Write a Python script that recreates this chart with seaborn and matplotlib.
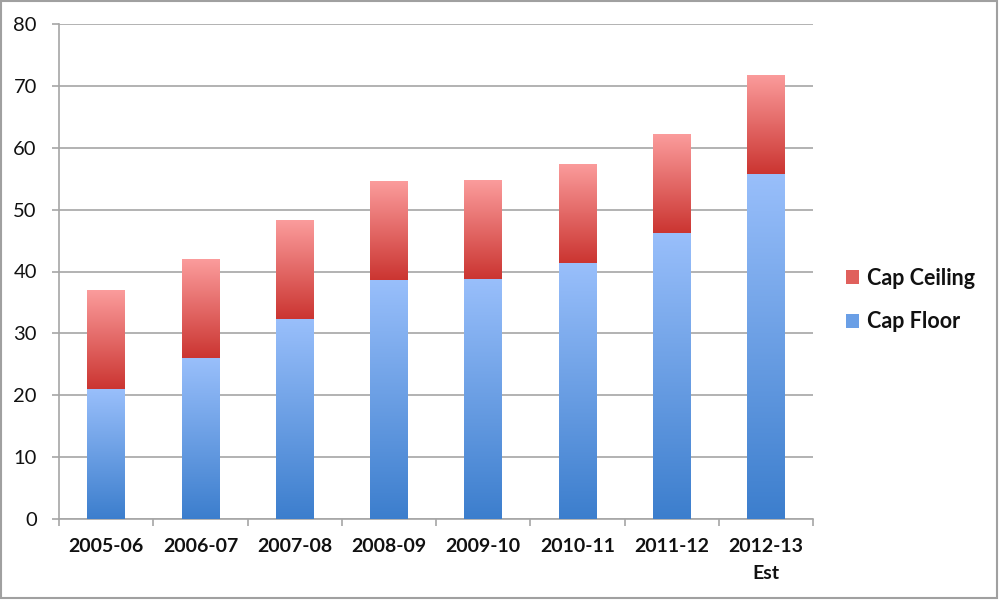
import numpy as np
import pandas as pd
import matplotlib
matplotlib.use("Agg")
import matplotlib.pyplot as plt
import seaborn as sns
from matplotlib.colors import LinearSegmentedColormap
from matplotlib.patches import Patch, Rectangle

# ---- data ----
seasons = ["2005-06", "2006-07", "2007-08", "2008-09", "2009-10",
           "2010-11", "2011-12", "2012-13\nEst"]
cap_floor = [21.0, 26.0, 32.3, 38.7, 38.8, 41.3, 46.3, 55.8]
cap_ceiling_extra = [16.0, 16.0, 16.0, 16.0, 16.0, 16.05, 16.0, 16.0]
y_ticks = [0, 10, 20, 30, 40, 50, 60, 70, 80]

sns.set_style("white")
plt.rcParams["font.family"] = ["Lato", "DejaVu Sans"]

totals = [f + c for f, c in zip(cap_floor, cap_ceiling_extra)]
df = pd.DataFrame({"season": seasons, "floor": cap_floor, "total": totals})

fig = plt.figure(figsize=(10, 6), dpi=100)
ax = fig.add_axes([0.059, 0.135, 0.754, 0.825])

grid_col = "#A6A6A6"
blue_cmap = LinearSegmentedColormap.from_list("blue", ["#3C7ECD", "#99BFFB"])
red_cmap = LinearSegmentedColormap.from_list("red", ["#CB3531", "#FB9C9C"])

sns.barplot(data=df, x="season", y="total", color="#E05A57", width=0.4,
            ax=ax, saturation=1, zorder=2)
sns.barplot(data=df, x="season", y="floor", color="#6A9FE6", width=0.4,
            ax=ax, saturation=1, zorder=3)

grad = np.linspace(0, 1, 256).reshape(-1, 1)
n = len(seasons)
patches = list(ax.patches)
red_patches = patches[:n]
blue_patches = patches[n:2 * n]
for i in range(n):
    rp = red_patches[i]
    x0, w = rp.get_x(), rp.get_width()
    im = ax.imshow(grad, extent=[x0, x0 + w, cap_floor[i], totals[i]],
                   origin="lower", cmap=red_cmap, aspect="auto", zorder=2,
                   interpolation="bilinear")
    im.set_clip_path(rp)
    rp.set_facecolor("none")
    rp.set_edgecolor("none")
    bp = blue_patches[i]
    x0, w = bp.get_x(), bp.get_width()
    im = ax.imshow(grad, extent=[x0, x0 + w, 0, cap_floor[i]],
                   origin="lower", cmap=blue_cmap, aspect="auto", zorder=3,
                   interpolation="bilinear")
    im.set_clip_path(bp)
    bp.set_facecolor("none")
    bp.set_edgecolor("none")

ax.set_xlim(-0.5, n - 0.5)
ax.set_ylim(0, 80)
ax.set_yticks(y_ticks)
ax.set_xlabel("")
ax.set_ylabel("")

ax.yaxis.grid(True, color=grid_col, linewidth=1.2)
ax.set_axisbelow(True)
for s in ["top", "right"]:
    ax.spines[s].set_visible(False)
for s in ["left", "bottom"]:
    ax.spines[s].set_color(grid_col)
    ax.spines[s].set_linewidth(1.2)

ax.tick_params(axis="y", which="major", direction="out", length=5,
               width=1.2, color=grid_col, pad=11, labelsize=14.5,
               labelcolor="#111111", left=True)
ax.set_xticks(np.arange(n))
ax.set_xticklabels(seasons, fontweight="bold", fontsize=14,
                   linespacing=1.65)
ax.set_xticks(np.arange(n + 1) - 0.5, minor=True)
ax.tick_params(axis="x", which="major", length=0, pad=14,
               labelcolor="#111111")
ax.tick_params(axis="x", which="minor", direction="out", length=5,
               width=1.2, color=grid_col, bottom=True)

handles = [Patch(facecolor="#E0605C", edgecolor="none", label="Cap Ceiling"),
           Patch(facecolor="#6A9FE6", edgecolor="none", label="Cap Floor")]
leg = fig.legend(handles=handles, loc="center left",
                 bbox_to_anchor=(0.846, 0.5), frameon=False,
                 prop={"weight": "bold", "size": 15.5},
                 handlelength=0.62, handleheight=0.62, handletextpad=0.35,
                 labelspacing=1.05, borderpad=0, borderaxespad=0)
for t in leg.get_texts():
    t.set_color("#111111")

fig.patches.append(Rectangle((0.001, 0.0033), 0.996, 0.9945,
                             transform=fig.transFigure, fill=False,
                             edgecolor="#A0A0A0", linewidth=1.5))

fig.savefig("out.png", dpi=100)
